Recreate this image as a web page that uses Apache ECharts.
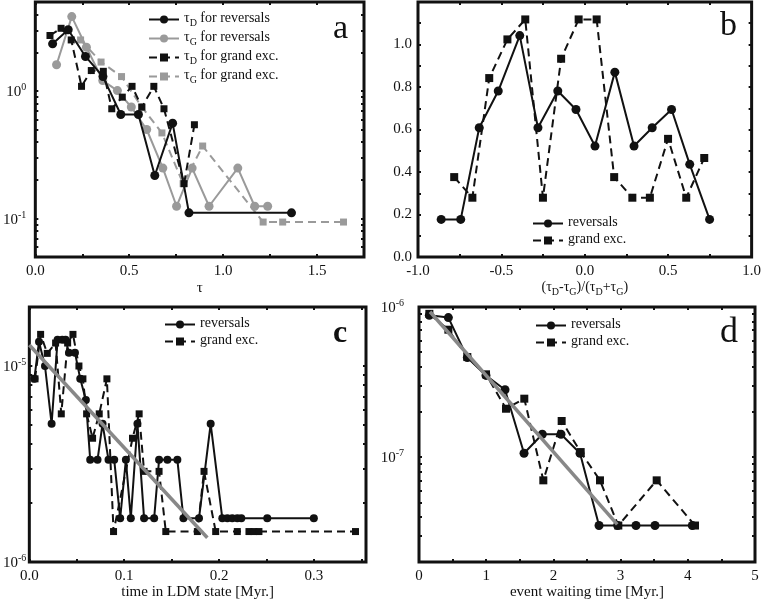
<!DOCTYPE html>
<html><head><meta charset="utf-8">
<script src="https://cdn.jsdelivr.net/npm/echarts@6/dist/echarts.min.js"></script>
<style>html,body{margin:0;padding:0;background:#fff}#c{width:764px;height:609px}</style>
</head><body><div id="c"></div><script>
// ---------------- Panel a ----------------
const aTauDRevX = [0.092,0.175,0.267,0.36,0.455,0.549,0.636,0.731,0.818,1.364];
const aTauDRevY = [2.35,3.03,1.87,1.3,0.656,0.656,0.218,0.561,0.111,0.111];
const aTauGRevX = [0.113,0.194,0.272,0.359,0.437,0.511,0.593,0.679,0.752,0.835,0.925,1.078,1.168,1.237];
const aTauGRevY = [1.61,3.84,2.21,1.21,1.01,0.75,0.50,0.249,0.125,0.249,0.125,0.249,0.125,0.125];
const aTauDGrdX = [0.078,0.137,0.191,0.246,0.298,0.362,0.407,0.463,0.515,0.567,0.631,0.685,0.792,0.847];
const aTauDGrdY = [2.73,3.11,2.52,1.09,1.45,1.43,0.727,0.897,1.09,0.749,1.09,0.727,0.188,0.545];
const aTauGGrdX = [0.241,0.35,0.459,0.567,0.674,0.787,0.891,1.213,1.317,1.641];
const aTauGGrdY = [2.52,1.69,1.30,0.75,0.47,0.188,0.371,0.094,0.094,0.094];
const aXLabels = [0, 0.5, 1.0, 1.5];
const aYLabels = [0.1, 1];

// ---------------- Panel b ----------------
const bRevX = [-0.861,-0.744,-0.633,-0.519,-0.390,-0.281,-0.162,-0.053,0.061,0.180,0.295,0.404,0.520,0.629,0.748];
const bRevY = [0.177,0.177,0.608,0.781,1.042,0.608,0.781,0.694,0.522,0.870,0.522,0.608,0.694,0.436,0.177];
const bGrdX = [-0.783,-0.674,-0.573,-0.464,-0.357,-0.251,-0.142,-0.037,0.071,0.176,0.285,0.390,0.499,0.608,0.716];
const bGrdY = [0.376,0.279,0.842,1.024,1.118,0.279,0.933,1.118,1.118,0.376,0.279,0.279,0.556,0.279,0.466];
const bXLabels = [-1.0,-0.5,0.0,0.5,1.0];
const bYLabels = [0,0.2,0.4,0.6,0.8,1.0];

// ---------------- Panel c ----------------
const cRevX = [0.0053,0.0102,0.0165,0.0235,0.0298,0.0347,0.0382,0.0418,0.0481,0.0537,0.0596,0.0642,0.0719,0.0772,0.0835,0.0895,0.0958,0.1018,0.107,0.114,0.121,0.1316,0.1368,0.1456,0.1561,0.1625,0.1789,0.1912,0.2035,0.2088,0.214,0.2193,0.2235,0.2509,0.3];
const cRevY = [8.6e-6,1.33e-5,1.0e-5,5.07e-6,1.36e-5,1.36e-5,1.36e-5,1.17e-5,1.17e-5,8.6e-6,6.7e-6,3.32e-6,3.32e-6,5.07e-6,3.32e-6,3.32e-6,1.67e-6,3.32e-6,1.67e-6,5.07e-6,1.67e-6,1.67e-6,3.32e-6,3.32e-6,3.32e-6,1.67e-6,1.67e-6,5.07e-6,1.67e-6,1.67e-6,1.67e-6,1.67e-6,1.67e-6,1.67e-6,1.67e-6];
const cGrdX = [0.006,0.0119,0.0189,0.0277,0.0337,0.0404,0.046,0.0523,0.0565,0.0604,0.0667,0.0737,0.0818,0.0888,0.1088,0.1158,0.121,0.1368,0.1439,0.1772,0.1842,0.1965,0.2193,0.2316,0.2368,0.2421,0.3439];
const cGrdY = [8.6e-6,1.45e-5,1.16e-5,1.31e-5,5.7e-6,1.31e-5,1.45e-5,1.0e-5,8.6e-6,5.7e-6,4.28e-6,5.7e-6,8.6e-6,1.43e-6,4.28e-6,5.7e-6,2.9e-6,2.9e-6,1.43e-6,1.43e-6,2.9e-6,1.43e-6,1.43e-6,1.43e-6,1.43e-6,1.43e-6,1.43e-6];
const cFitX = [0.0, 0.1877];
const cFitY = [1.28e-5, 1.33e-6];
const cXLabels = [0, 0.1, 0.2, 0.3];
const cYLabels = [1e-6, 1e-5];

// ---------------- Panel d ----------------
const dRevX = [0.154,0.437,0.719,0.997,1.28,1.563,1.835,2.113,2.396,2.679,2.956,3.229,3.512,4.067];
const dRevY = [8.8e-7,8.5e-7,4.6e-7,3.5e-7,2.81e-7,1.06e-7,1.42e-7,1.42e-7,1.06e-7,3.5e-8,3.5e-8,3.5e-8,3.5e-8,3.5e-8];
const dGrdX = [0.154,0.437,0.719,0.997,1.295,1.567,1.850,2.123,2.406,2.693,2.966,3.537,4.107];
const dGrdY = [9.0e-7,7.06e-7,4.64e-7,3.56e-7,2.1e-7,2.45e-7,7.0e-8,1.74e-7,1.08e-7,7.0e-8,3.5e-8,7.0e-8,3.5e-8];
const dFitX = [0.164, 2.95];
const dFitY = [9.3e-7, 3.56e-8];
const dXLabels = [0,1,2,3,4,5];
const dYLabels = [1e-7, 1e-6];

// ---------------- helpers ----------------
const FONT = 'Liberation Serif';
const INK = '#111';
const GRAY = '#9a9a9a';
const FIT = '#888888';
const zip = (xs, ys) => xs.map((x, i) => [x, ys[i]]);

function logTicks(min, max) {
  const out = [];
  for (let e = -10; e <= 2; e++) for (let m = 1; m <= 9; m++) {
    const v = +(m * Math.pow(10, e)).toPrecision(6);
    if (v >= min * 0.999 && v <= max * 1.001) out.push(v);
  }
  return out;
}
const richLbl = {
  b: {fontFamily: FONT, fontSize: 15, color: INK, verticalAlign: 'bottom'},
  s: {fontFamily: FONT, fontSize: 10, color: INK, verticalAlign: 'bottom', padding: [0,0,7,0]}
};
const richTxt = {
  t: {fontFamily: FONT, fontSize: 14, color: INK, verticalAlign: 'bottom', padding: [0,0,3,0]},
  sub: {fontFamily: FONT, fontSize: 10, color: INK, verticalAlign: 'bottom'}
};
const powFmt = v => '{b|10}{s|' + Math.round(Math.log10(v)) + '}';
const tickStyle = {show: true, inside: true, length: 3, lineStyle: {color: INK, width: 2}};
const noLine = {show: false, onZero: false};

const grids = [
  {left: 28, right: 400, top: 2, bottom: 352},
  {left: 418, right: 11, top: 2, bottom: 352},
  {left: 28, right: 398, top: 307, bottom: 47},
  {left: 419, right: 9, top: 307, bottom: 47}
].map(g => Object.assign(g, {show: true, borderColor: INK, borderWidth: 3, backgroundColor: 'transparent'}));

const xAxes = [], yAxes = [];
function addX(gi, cfg) {
  const base = {type: 'value', gridIndex: gi, min: cfg.min, max: cfg.max, interval: cfg.interval,
    axisLine: noLine, splitLine: {show: false}, axisTick: tickStyle};
  xAxes.push(Object.assign({}, base, {position: 'bottom',
    name: cfg.name, nameLocation: 'middle', nameGap: cfg.nameGap,
    nameTextStyle: {fontFamily: FONT, fontSize: 15, color: INK, rich: richTxt},
    axisLabel: {show: true, customValues: cfg.labels, margin: cfg.margin || 7, fontFamily: FONT, fontSize: 15, color: INK,
      formatter: cfg.fmt}}));
  xAxes.push(Object.assign({}, base, {position: 'top', axisLabel: {show: false}}));
  return xAxes.length - 2;
}
function addY(gi, cfg) {
  let base;
  if (cfg.log) {
    base = {type: 'log', logBase: 10, gridIndex: gi, min: cfg.min, max: cfg.max,
      axisLine: noLine, splitLine: {show: false}, minorTick: {show: false},
      axisTick: Object.assign({}, tickStyle, {customValues: logTicks(cfg.min, cfg.max)})};
  } else {
    base = {type: 'value', gridIndex: gi, min: cfg.min, max: cfg.max, interval: cfg.interval,
      axisLine: noLine, splitLine: {show: false}, axisTick: tickStyle};
  }
  yAxes.push(Object.assign({}, base, {position: 'left',
    axisLabel: {show: true, customValues: cfg.labels, margin: cfg.margin, fontFamily: FONT, fontSize: 15, color: INK,
      formatter: cfg.fmt, rich: richLbl}}));
  yAxes.push(Object.assign({}, base, {position: 'right', axisLabel: {show: false}}));
  return yAxes.length - 2;
}

const xa = addX(0, {min: 0, max: 1.75, interval: 0.25, labels: aXLabels, fmt: v => v.toFixed(1), name: 'τ', nameGap: 24});
const ya = addY(0, {log: true, min: 0.05, max: 5, labels: aYLabels, fmt: powFmt, margin: 9});
const xb = addX(1, {min: -1, max: 1, interval: 0.25, labels: bXLabels, fmt: v => v.toFixed(1),
  name: '{t|(τ}{sub|D}{t|-τ}{sub|G}{t|)/(τ}{sub|D}{t|+τ}{sub|G}{t|)}', nameGap: 15});
const yb = addY(1, {min: 0, max: 1.2, interval: 0.1, labels: bYLabels, fmt: v => v.toFixed(1), margin: 6});
const xc = addX(2, {min: 0, max: 0.355, interval: 0.05, labels: cXLabels, fmt: v => v.toFixed(1), name: 'time in LDM state [Myr.]', nameGap: 23});
const yc = addY(2, {log: true, min: 1e-6, max: 2e-5, labels: cYLabels, fmt: powFmt, margin: 3});
const xd = addX(3, {min: 0, max: 5, interval: 0.5, labels: dXLabels, fmt: v => String(Math.round(v)), name: 'event waiting time [Myr.]', nameGap: 23});
const yd = addY(3, {log: true, min: 2e-8, max: 1e-6, labels: dYLabels, fmt: powFmt, margin: 15});

function ser(name, xi, yi, data, color, symbol, size, dashed, extra) {
  return Object.assign({
    name, type: 'line', xAxisIndex: xi, yAxisIndex: yi, data,
    symbol, symbolSize: size, showSymbol: true,
    lineStyle: {color, width: 2, type: dashed ? [8, 5] : 'solid'},
    itemStyle: {color, borderWidth: 0},
    emphasis: {disabled: true}, silent: true, animation: false
  }, extra || {});
}

const series = [
  ser('aGR', xa, ya, zip(aTauGRevX, aTauGRevY), GRAY, 'circle', 9, false, {z: 2}),
  ser('aGG', xa, ya, zip(aTauGGrdX, aTauGGrdY), GRAY, 'rect', 7, true, {z: 2}),
  ser('aDR', xa, ya, zip(aTauDRevX, aTauDRevY), INK, 'circle', 9, false, {z: 3}),
  ser('aDG', xa, ya, zip(aTauDGrdX, aTauDGrdY), INK, 'rect', 7, true, {z: 3}),
  ser('bR', xb, yb, zip(bRevX, bRevY), INK, 'circle', 9, false),
  ser('bG', xb, yb, zip(bGrdX, bGrdY), INK, 'rect', 8, true),
  ser('cR', xc, yc, zip(cRevX, cRevY), INK, 'circle', 8, false),
  ser('cG', xc, yc, zip(cGrdX, cGrdY), INK, 'rect', 7, true),
  ser('cFit', xc, yc, zip(cFitX, cFitY), FIT, 'none', 0, false, {lineStyle: {color: FIT, width: 3.5}, z: 4}),
  ser('dR', xd, yd, zip(dRevX, dRevY), INK, 'circle', 9, false),
  ser('dG', xd, yd, zip(dGrdX, dGrdY), INK, 'rect', 8, true),
  ser('dFit', xd, yd, zip(dFitX, dFitY), FIT, 'none', 0, false, {lineStyle: {color: FIT, width: 3.5}, z: 4})
];

const legendNames = {
  aDR: '{t|τ}{sub|D}{t| for reversals}',
  aGR: '{t|τ}{sub|G}{t| for reversals}',
  aDG: '{t|τ}{sub|D}{t| for grand exc.}',
  aGG: '{t|τ}{sub|G}{t| for grand exc.}',
  bR: '{t|reversals}', bG: '{t|grand exc.}',
  cR: '{t|reversals}', cG: '{t|grand exc.}',
  dR: '{t|reversals}', dG: '{t|grand exc.}'
};
function leg(names, left, top, gap) {
  return {data: names, left, top, orient: 'vertical', padding: 0, itemGap: gap, itemWidth: 30, itemHeight: 10,
    selectedMode: false, formatter: n => legendNames[n], textStyle: {rich: richTxt}};
}
const legends = [
  leg(['aDR','aGR','aDG','aGG'], 148, 11, 2),
  leg(['bR','bG'], 532, 215, 3),
  leg(['cR','cG'], 164, 316, 3),
  leg(['dR','dG'], 535, 317, 3)
];

const letter = (t, left, top, size, weight) => ({text: t, left, top, padding: 0,
  textStyle: {fontFamily: FONT, fontSize: size, fontWeight: weight || 'normal', color: INK}});

const chart = echarts.init(document.getElementById('c'), null, {renderer: 'canvas'});
chart.setOption({
  animation: false,
  backgroundColor: '#fff',
  title: [letter('a', 333, 12, 34), letter('b', 720, 9, 34), letter('c', 333, 318, 32, 'bold'), letter('d', 720, 315, 36)],
  grid: grids, xAxis: xAxes, yAxis: yAxes, legend: legends, series
});
</script></body></html>
